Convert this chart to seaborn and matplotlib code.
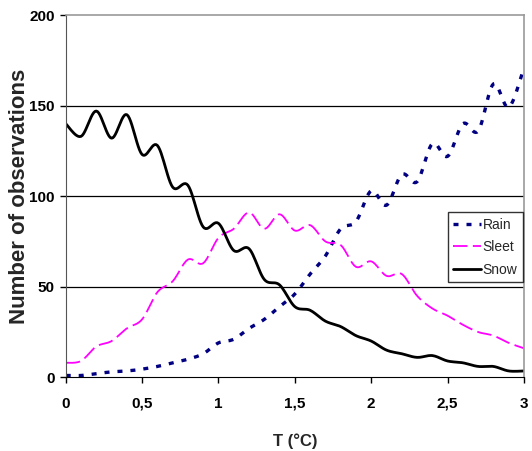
import numpy as np
import pandas as pd
import matplotlib
matplotlib.use('Agg')
import matplotlib.pyplot as plt
import seaborn as sns

sns.set_style('white')
plt.rcParams['font.family'] = ['Liberation Sans', 'DejaVu Sans']

# temperature (deg C), observations per precipitation type
temp = [0.0, 0.1, 0.2, 0.3, 0.4, 0.5, 0.6, 0.7, 0.8, 0.9, 1.0,
        1.1, 1.2, 1.3, 1.4, 1.5, 1.6, 1.7, 1.8, 1.9, 2.0,
        2.1, 2.2, 2.3, 2.4, 2.5, 2.6, 2.7, 2.8, 2.9, 3.0]
rain = [1, 1, 2, 3, 3.5, 4.5, 6, 8, 10, 13, 19,
        21, 27, 32, 39, 46, 57, 67, 82, 86, 103,
        95, 112, 108, 129, 122, 140, 136, 162, 149, 171]
sleet = [8, 9, 17, 20, 27, 32, 47, 53, 65, 63, 77,
         82, 91, 82, 90, 81, 84, 75, 73, 61, 64,
         56, 57, 45, 38, 34, 29, 25, 23, 19, 16]
snow = [140, 133, 147, 132, 145, 123, 128, 105, 106, 83, 85,
        70, 71, 54, 51, 39, 37, 31, 28, 23, 20,
        15, 13, 11, 12, 9, 8, 6, 6, 3.5, 3.5]


def smooth(x, y, n=12):
    # Excel-like smoothed line (Catmull-Rom through the points)
    x = np.asarray(x, float)
    y = np.asarray(y, float)
    px = np.concatenate([[x[0]], x, [x[-1]]])
    py = np.concatenate([[y[0]], y, [y[-1]]])
    t = np.linspace(0, 1, n, endpoint=False)
    xs, ys = [], []
    for i in range(1, len(px) - 2):
        for p, out in ((px, xs), (py, ys)):
            p0, p1, p2, p3 = p[i - 1], p[i], p[i + 1], p[i + 2]
            out.extend(0.5 * (2 * p1 + (-p0 + p2) * t
                              + (2 * p0 - 5 * p1 + 4 * p2 - p3) * t ** 2
                              + (-p0 + 3 * p1 - 3 * p2 + p3) * t ** 3))
    xs.append(x[-1])
    ys.append(y[-1])
    return xs, ys


fig = plt.figure(figsize=(5.32, 4.51), dpi=100)
ax = fig.add_axes([0.1235, 0.1634, 0.8615, 0.8033])

styles = {
    'Rain': dict(color='#000080', lw=2.4, dashes=(1.5, 2.4)),
    'Sleet': dict(color='#FF00FF', lw=1.3, dashes=(8, 3)),
    'Snow': dict(color='black', lw=2.0, dashes=()),
}
for name, vals in (('Rain', rain), ('Sleet', sleet), ('Snow', snow)):
    xs, ys = smooth(temp, vals)
    df = pd.DataFrame({'T': xs, 'N': ys})
    st = styles[name]
    sns.lineplot(data=df, x='T', y='N', ax=ax, sort=False, estimator=None,
                 color=st['color'], lw=st['lw'], label=name)
    if st['dashes']:
        ax.lines[-1].set_dashes(st['dashes'])

ax.set_xlim(0, 3)
ax.set_ylim(0, 200)
ax.set_xticks([0, 0.5, 1, 1.5, 2, 2.5, 3])
ax.set_xticklabels(['0', '0,5', '1', '1,5', '2', '2,5', '3'])
ax.set_yticks([0, 50, 100, 150, 200])
for v in (50, 100, 150):
    ax.axhline(v, color='black', lw=0.9, zorder=0)

for side in ('top', 'right'):
    ax.spines[side].set_color('#999999')
    ax.spines[side].set_linewidth(1.2)
ax.spines['left'].set_color('#555555')
ax.spines['bottom'].set_color('black')
ax.tick_params(axis='both', direction='out', length=4, width=1, colors='black',
               labelsize=11, pad=4, left=True, bottom=True)
ax.tick_params(axis='x', pad=10)
for lab in ax.get_xticklabels() + ax.get_yticklabels():
    lab.set_fontweight('bold')

ax.set_xlabel('T (°C)', fontsize=12, fontweight='bold', labelpad=16)
ax.set_ylabel('Number of observations', fontsize=16, fontweight='bold', labelpad=-1)

leg = ax.legend(loc='upper left', bbox_to_anchor=(0.834, 0.456), fontsize=10,
                frameon=True, fancybox=False, handlelength=2.0, handletextpad=0.1,
                borderpad=0.4, labelspacing=0.62, borderaxespad=0)
leg.get_frame().set_edgecolor('black')
leg.get_frame().set_linewidth(1.0)

fig.savefig('out.png', dpi=100)
